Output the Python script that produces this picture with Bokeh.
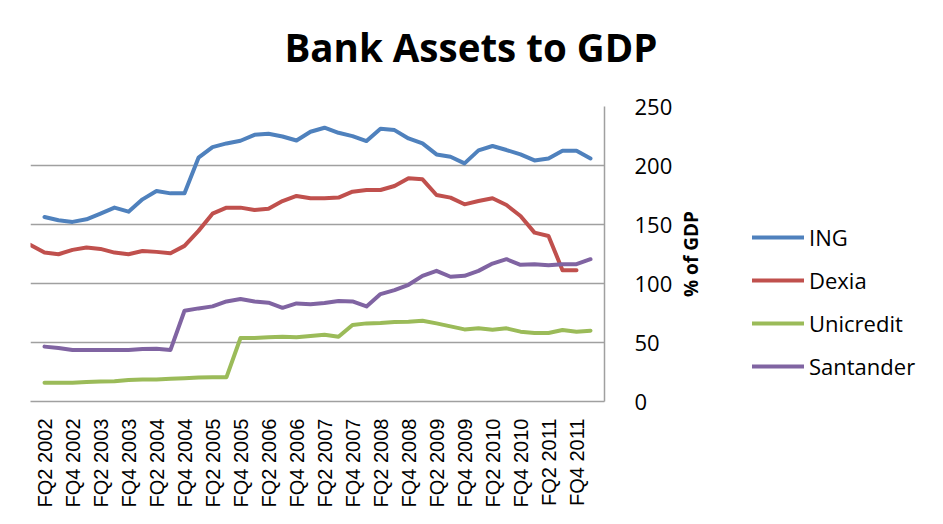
import math
from bokeh.plotting import figure
from bokeh.layouts import row
from bokeh.models import Range1d, Legend, LegendItem, FixedTicker, ColumnDataSource, Title
from bokeh.embed import file_html
from bokeh.resources import INLINE

# Categories: quarters FQ1 2002 .. FQ2 2012
quarters = [f"FQ{q} {y}" for y in range(2002, 2013) for q in range(1, 5)][:42]

# Series values (% of GDP), None where no data
ing = [None,
       156.4, 153.6, 152.2, 154.4, 159.2, 164.3, 160.9, 171.3, 178.4, 176.4,
       176.4, 206.6, 215.6, 218.7, 221.0, 226.0, 226.9, 224.6, 221.2, 228.6,
       232.0, 227.7, 224.9, 220.7, 231.1, 230.0, 222.9, 218.7, 209.4, 207.4,
       201.8, 212.8, 216.5, 213.1, 209.4, 204.3, 206.0, 212.5, 212.5, 206.0,
       None]
dexia = [132.7, 126.2, 124.8, 128.5, 130.5, 129.3, 126.2, 124.8, 127.6, 126.8,
         125.7, 131.9, 144.6, 159.2, 164.3, 164.3, 162.3, 163.4, 169.9, 174.2,
         172.2, 172.2, 172.8, 177.8, 179.2, 179.2, 182.6, 189.1, 188.3, 175.0,
         172.8, 167.1, 169.9, 172.2, 166.5, 157.2, 143.1, 140.3, 111.3, 111.3,
         None, None]
unicredit = [None,
             15.8, 15.8, 15.8, 16.6, 16.9, 17.2, 18.3, 18.6, 18.6, 19.2,
             19.7, 20.3, 20.6, 20.6, 53.8, 53.8, 54.4, 54.9, 54.4, 55.5,
             56.6, 54.9, 64.8, 66.2, 66.5, 67.3, 67.6, 68.5, 66.2, 63.7,
             61.1, 62.0, 60.8, 62.0, 59.2, 58.0, 58.0, 60.6, 59.2, 60.0,
             None]
santander = [None,
             46.5, 45.4, 43.7, 43.7, 43.7, 43.7, 43.7, 44.5, 44.8, 43.7,
             76.9, 78.9, 80.6, 84.8, 86.8, 84.8, 83.7, 79.4, 83.1, 82.5,
             83.4, 85.1, 84.8, 80.6, 91.0, 94.4, 98.9, 106.5, 110.7, 105.7,
             106.5, 110.7, 116.9, 120.6, 115.8, 116.4, 115.5, 116.4, 116.4, 120.6,
             None]

series_names = ["ING", "Dexia", "Unicredit", "Santander"]
series_values = [ing, dexia, unicredit, santander]
series_colors = ["#4F81BD", "#C0504D", "#9BBB59", "#8064A2"]

y_ticks = [0, 50, 100, 150, 200, 250]


def col(vals):
    return [float("nan") if v is None else v for v in vals]


xs = list(range(len(quarters)))
data = {"x": xs, "q": quarters}
for name, vals in zip(series_names, series_values):
    data[name] = col(vals)
src = ColumnDataSource(data)

# ---- main chart ----
p = figure(width=675, height=524, output_backend="svg", toolbar_location=None,
           x_range=Range1d(0, len(quarters) - 1), y_range=Range1d(y_ticks[0], y_ticks[-1]),
           y_axis_location="right",
           min_border_left=30, min_border_right=71, min_border_top=106, min_border_bottom=123)
p.title = None

# spacer between title and plot frame, then the title itself (outermost)
p.add_layout(Title(text=" ", text_font_size="10px", standoff=21), "above")
p.add_layout(Title(text="Bank Assets to GDP", text_font="Open Sans", text_font_style="bold",
                   text_font_size="38.5px", text_color="#000000", align="left",
                   offset=254, standoff=0), "above")

p.outline_line_color = None
p.background_fill_color = "white"
p.border_fill_color = "white"

for name, color in zip(series_names, series_colors):
    p.line("x", name, source=src, line_color=color, line_width=4,
           line_join="round", line_cap="round")

p.xgrid.grid_line_color = None
p.ygrid.ticker = FixedTicker(ticks=y_ticks)
p.ygrid.grid_line_color = "#a0a0a0"
p.ygrid.grid_line_width = 1.5

x_ticks = list(range(1, 40, 2))
xa = p.xaxis[0]
xa.ticker = FixedTicker(ticks=x_ticks)
xa.major_label_overrides = {i: quarters[i] for i in x_ticks}
xa.major_label_orientation = math.pi / 2
xa.major_label_text_font = "Liberation Sans"
xa.major_label_text_font_size = "20px"
xa.major_label_text_color = "#000000"
xa.major_label_standoff = 11
xa.major_tick_line_color = None
xa.minor_tick_line_color = None
xa.axis_line_color = "#a0a0a0"
xa.axis_line_width = 1.5

ya = p.yaxis[0]
ya.ticker = FixedTicker(ticks=y_ticks)
ya.major_label_text_font = "Open Sans"
ya.major_label_text_font_size = "22px"
ya.major_label_text_color = "#000000"
ya.major_label_standoff = 24
ya.major_tick_line_color = None
ya.minor_tick_line_color = None
ya.axis_line_color = "#a0a0a0"
ya.axis_line_width = 1.5

# ---- right-hand panel: value-axis title and legend ----
lg = figure(width=268, height=524, output_backend="svg", toolbar_location=None,
            x_range=Range1d(0, 1), y_range=Range1d(0, 1),
            x_axis_location=None, y_axis_location=None,
            min_border_left=0, min_border_right=0, min_border_top=0, min_border_bottom=0)
lg.title = None
lg.grid.visible = False
lg.outline_line_color = None
lg.background_fill_color = "white"
lg.border_fill_color = "white"

lg.add_layout(Title(text="% of GDP", text_font="Open Sans", text_font_style="bold",
                    text_font_size="19px", text_color="#000000", align="center",
                    standoff=0), "left")

# legend glyph renderers (same data; the unit ranges keep them out of view)
legend_renderers = []
for name, color in zip(series_names, series_colors):
    r = lg.line("x", name, source=src, line_color=color, line_width=4, line_cap="round")
    legend_renderers.append(r)

legend = Legend(items=[LegendItem(label=n, renderers=[r]) for n, r in zip(series_names, legend_renderers)],
                location=(49, 20), orientation="vertical",
                glyph_width=52, glyph_height=20, label_height=20, label_standoff=5,
                spacing=13, padding=0, margin=0,
                border_line_color=None, background_fill_alpha=0,
                label_text_font="Open Sans", label_text_font_size="22px",
                label_text_color="#000000")
lg.add_layout(legend)

layout = row(p, lg, spacing=0)
open("out.html", "w").write(file_html(layout, INLINE))
